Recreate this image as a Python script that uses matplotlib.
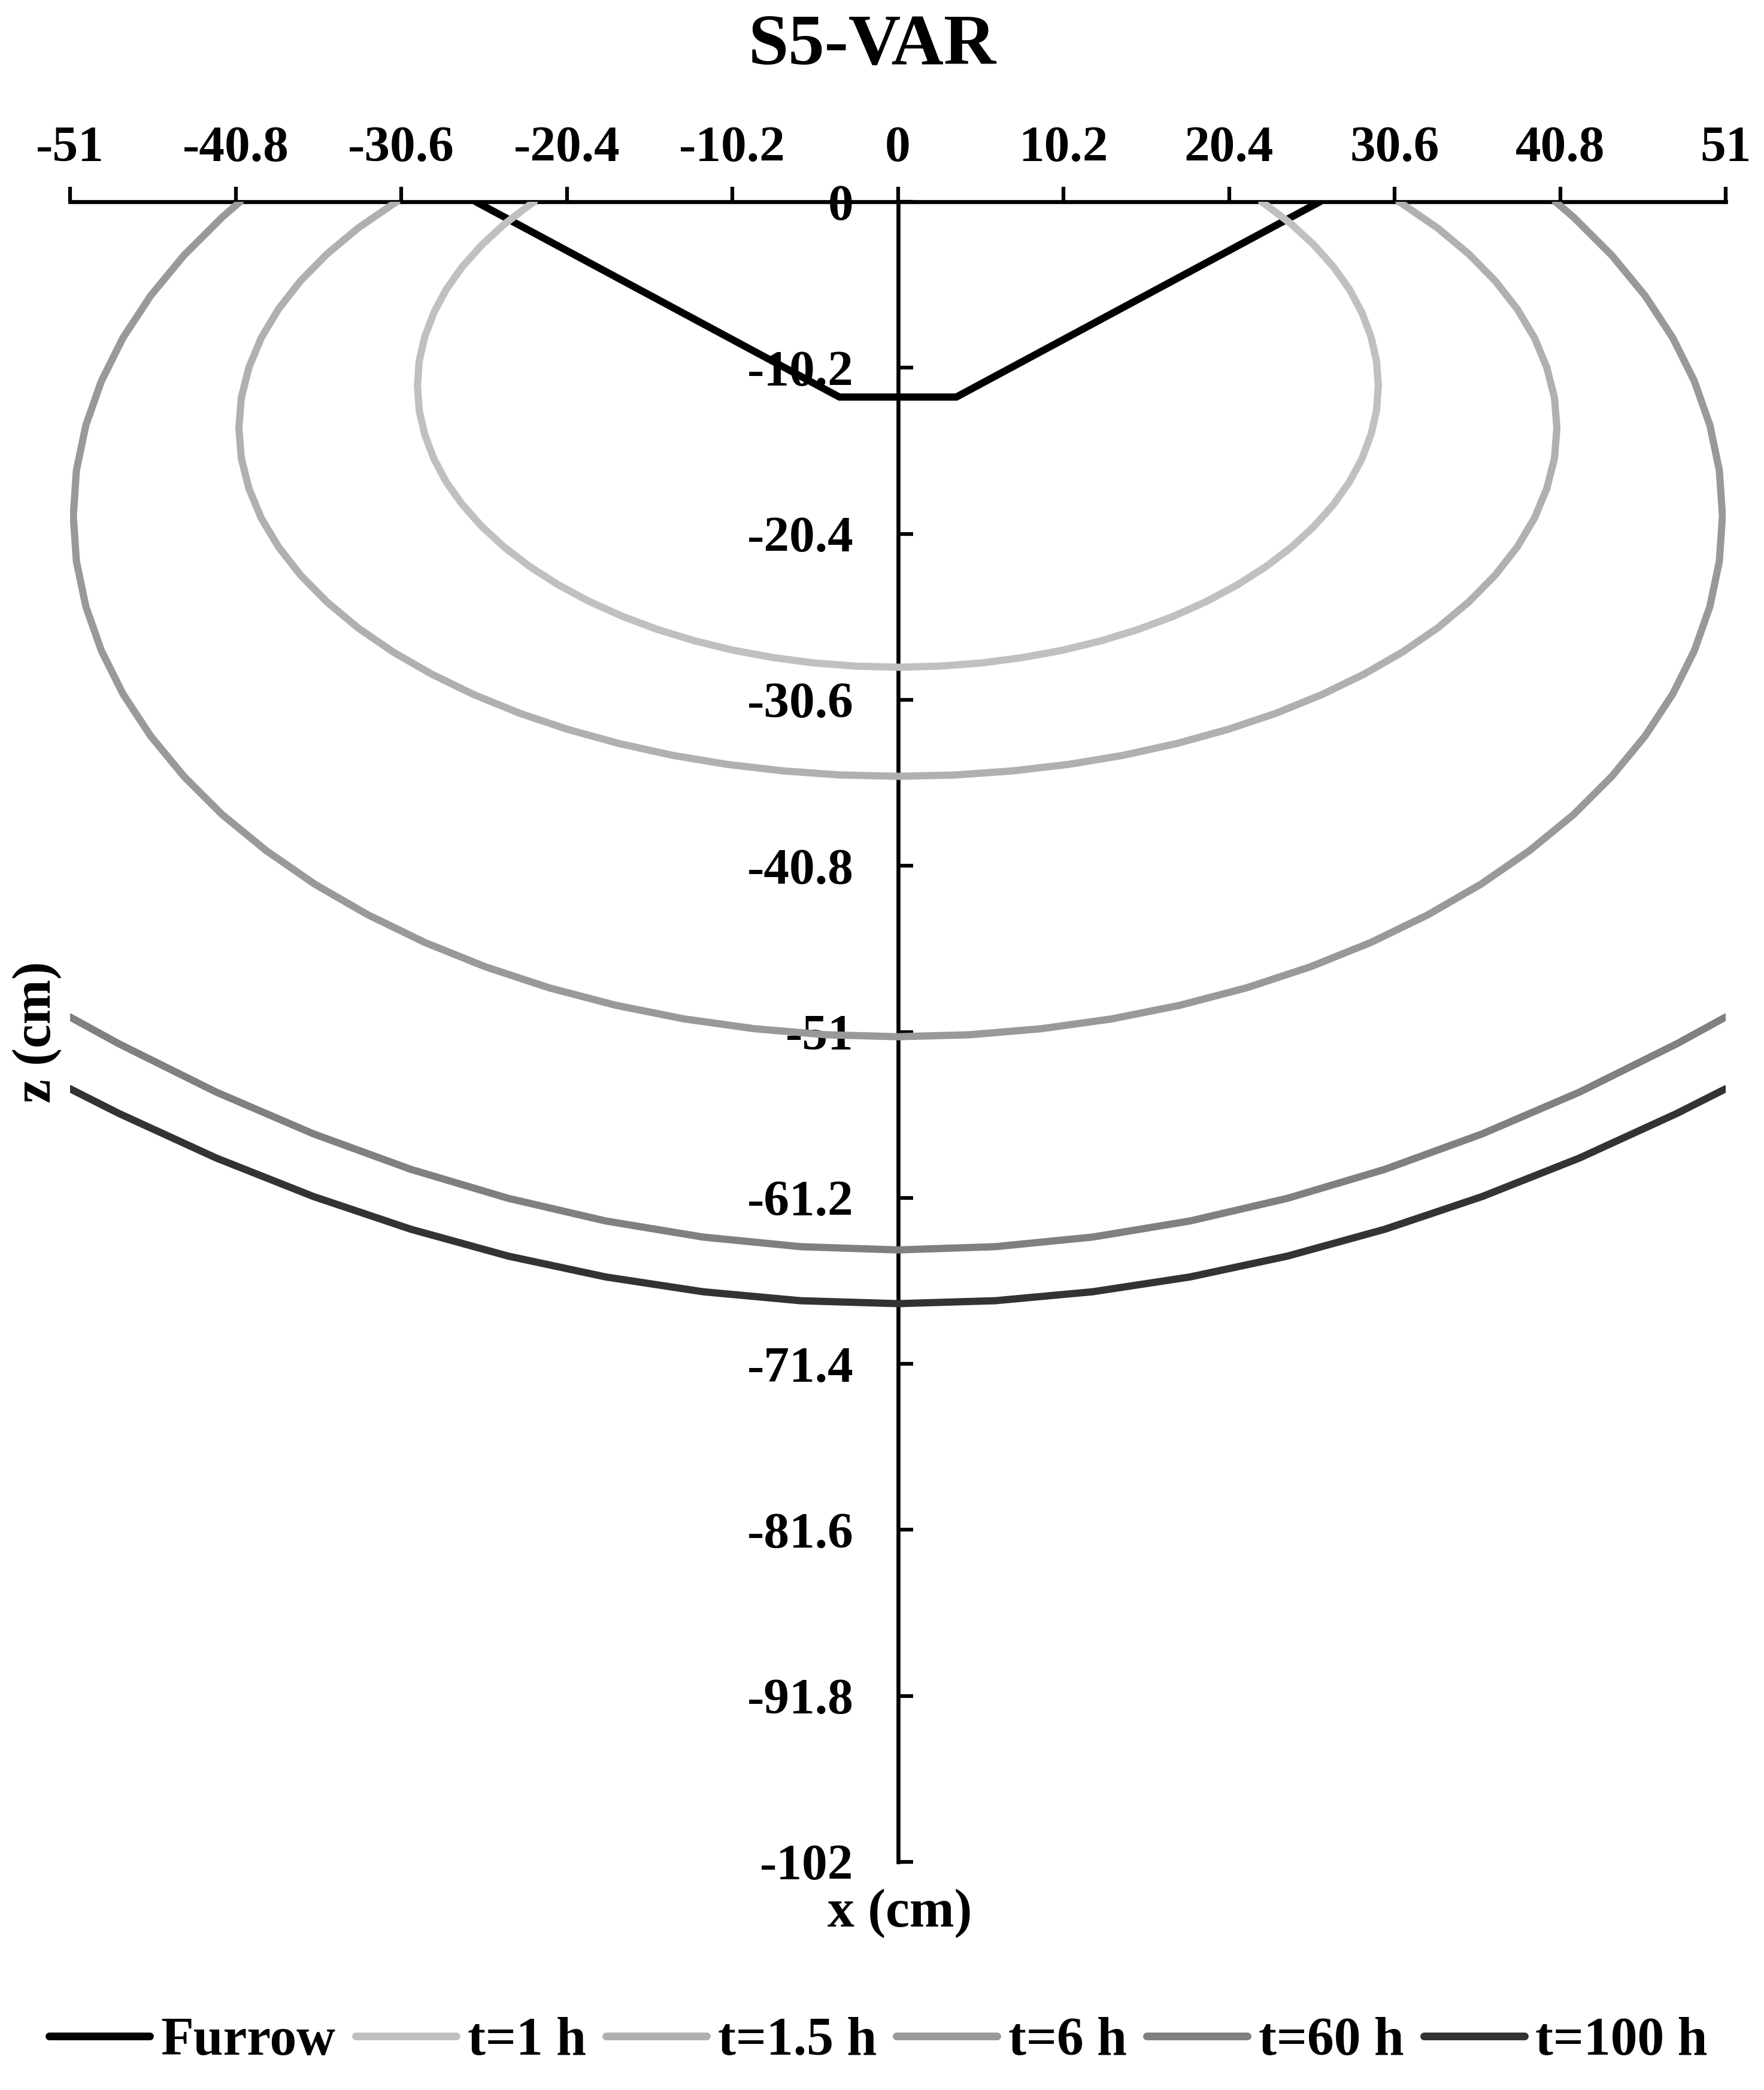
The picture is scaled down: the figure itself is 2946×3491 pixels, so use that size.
import matplotlib
matplotlib.use("Agg")
import matplotlib.pyplot as plt

plt.rcParams['font.family'] = ['Liberation Serif', 'DejaVu Serif']
plt.rcParams['font.weight'] = 'bold'
plt.rcParams['axes.unicode_minus'] = False

# ---------------- data ----------------
title = "S5-VAR"
x_ticks = [-51, -40.8, -30.6, -20.4, -10.2, 0, 10.2, 20.4, 30.6, 40.8, 51]
x_tick_labels = ["-51", "-40.8", "-30.6", "-20.4", "-10.2", "0", "10.2", "20.4", "30.6", "40.8", "51"]
z_ticks = [0, -10.2, -20.4, -30.6, -40.8, -51, -61.2, -71.4, -81.6, -91.8, -102]
z_tick_labels = ["0", "-10.2", "-20.4", "-30.6", "-40.8", "-51", "-61.2", "-71.4", "-81.6", "-91.8", "-102"]

series_names = ["Furrow", "t=1 h", "t=1.5 h", "t=6 h", "t=60 h", "t=100 h"]
series_colors = ["#000000", "#c0c0c0", "#b0b0b0", "#999999", "#808080", "#333333"]

furrow_x = [-26.0, -3.6, 3.6, 26.0]
furrow_z = [0.0, -12.0, -12.0, 0.0]

t1_x = [-22.41, -22.67, -24.25, -25.63, -26.83, -27.82, -28.59, -29.15, -29.49, -29.60,
        -29.49, -29.15, -28.59, -27.82, -26.83, -25.63, -24.25, -22.67, -20.93, -19.03,
        -16.98, -14.80, -12.51, -10.12, -7.66, -5.14, -2.58, 0.0,
        2.58, 5.14, 7.66, 10.12, 12.51, 14.80, 16.98, 19.03, 20.93, 22.67, 24.25, 25.63,
        26.83, 27.82, 28.59, 29.15, 29.49, 29.60, 29.49, 29.15, 28.59, 27.82, 26.83, 25.63,
        24.25, 22.67, 22.41]
t1_z = [0.0, -0.18, -1.38, -2.65, -3.99, -5.38, -6.82, -8.30, -9.79, -11.30,
        -12.81, -14.30, -15.78, -17.22, -18.61, -19.95, -21.22, -22.42, -23.53, -24.55,
        -25.47, -26.28, -26.98, -27.56, -28.01, -28.34, -28.53, -28.60,
        -28.53, -28.34, -28.01, -27.56, -26.98, -26.28, -25.47, -24.55, -23.53, -22.42, -21.22, -19.95,
        -18.61, -17.22, -15.78, -14.30, -12.81, -11.30, -9.79, -8.30, -6.82, -5.38, -3.99, -2.65,
        -1.38, -0.18, 0.0]

t15_x = [-30.87, -31.10, -33.26, -35.16, -36.80, -38.15, -39.22, -39.98, -40.45, -40.60,
         -40.45, -39.98, -39.22, -38.15, -36.80, -35.16, -33.26, -31.10, -28.71, -26.10,
         -23.29, -20.30, -17.16, -13.89, -10.51, -7.05, -3.54, 0.0,
         3.54, 7.05, 10.51, 13.89, 17.16, 20.30, 23.29, 26.10, 28.71, 31.10, 33.26, 35.16,
         36.80, 38.15, 39.22, 39.98, 40.45, 40.60, 40.45, 39.98, 39.22, 38.15, 36.80, 35.16,
         33.26, 31.10, 30.87]
t15_z = [0.0, -0.14, -1.62, -3.20, -4.86, -6.58, -8.36, -10.18, -12.03, -13.90,
         -15.77, -17.62, -19.44, -21.22, -22.94, -24.60, -26.18, -27.66, -29.03, -30.29,
         -31.43, -32.43, -33.29, -34.01, -34.57, -34.97, -35.22, -35.30,
         -35.22, -34.97, -34.57, -34.01, -33.29, -32.43, -31.43, -30.29, -29.03, -27.66, -26.18, -24.60,
         -22.94, -21.22, -19.44, -17.62, -15.77, -13.90, -12.03, -10.18, -8.36, -6.58, -4.86, -3.20,
         -1.62, -0.14, 0.0]

t6_x = [-40.52, -41.62, -43.99, -46.04, -47.74, -49.07, -50.03, -50.61, -50.80, -50.61,
        -50.03, -49.07, -47.74, -46.04, -43.99, -41.62, -38.91, -35.92, -32.65, -29.14,
        -25.40, -21.47, -17.37, -13.15, -8.82, -4.43, 0.0,
        4.43, 8.82, 13.15, 17.37, 21.47, 25.40, 29.14, 32.65, 35.92, 38.91, 41.62, 43.99,
        46.04, 47.74, 49.07, 50.03, 50.61, 50.80, 50.61, 50.03, 49.07, 47.74, 46.04, 43.99,
        41.62, 40.52]
t6_z = [0.0, -0.94, -3.30, -5.78, -8.36, -11.02, -13.74, -16.51, -19.30, -22.09,
        -24.86, -27.58, -30.24, -32.82, -35.30, -37.66, -39.87, -41.93, -43.81, -45.51,
        -47.01, -48.30, -49.37, -50.21, -50.81, -51.18, -51.30,
        -51.18, -50.81, -50.21, -49.37, -48.30, -47.01, -45.51, -43.81, -41.93, -39.87, -37.66, -35.30,
        -32.82, -30.24, -27.58, -24.86, -22.09, -19.30, -16.51, -13.74, -11.02, -8.36, -5.78, -3.30,
        -0.94, 0.0]

t60_x = [-51, -48, -42, -36, -30, -24, -18, -12, -6, 0, 6, 12, 18, 24, 30, 36, 42, 48, 51]
t60_z = [-50.09, -51.73, -54.70, -57.27, -59.45, -61.23, -62.62, -63.61, -64.20, -64.40,
         -64.20, -63.61, -62.62, -61.23, -59.45, -57.27, -54.70, -51.73, -50.09]

t100_x = [-51, -48, -42, -36, -30, -24, -18, -12, -6, 0, 6, 12, 18, 24, 30, 36, 42, 48, 51]
t100_z = [-54.50, -56.01, -58.75, -61.12, -63.13, -64.78, -66.06, -66.97, -67.52, -67.70,
          -67.52, -66.97, -66.06, -64.78, -63.13, -61.12, -58.75, -56.01, -54.50]

series_x = [furrow_x, t1_x, t15_x, t6_x, t60_x, t100_x]
series_z = [furrow_z, t1_z, t15_z, t6_z, t60_z, t100_z]

# ---------------- figure ----------------
W, H = 2946, 3491
fig = plt.figure(figsize=(W / 300, H / 300), dpi=300)
ax = fig.add_axes([117 / W, 1 - 3110 / H, (2882 - 117) / W, (3110 - 337) / H])

lw = 2.9
handles = []
for xs, zs, name, col in zip(series_x, series_z, series_names, series_colors):
    ln, = ax.plot(xs, zs, color=col, lw=lw, label=name, zorder=3,
                  solid_capstyle='round', solid_joinstyle='round')
    handles.append(ln)

ax.set_xlim(-51, 51)
ax.set_ylim(-102, 0)

# axes: x-axis on top (z=0), z-axis at x=0
ax.spines['bottom'].set_visible(False)
ax.spines['right'].set_visible(False)
ax.spines['left'].set_position(('data', 0))
for s in ('top', 'left'):
    ax.spines[s].set_linewidth(1.6)
    ax.spines[s].set_color('black')

ax.xaxis.tick_top()
ax.set_xticks(x_ticks)
ax.set_xticklabels(x_tick_labels)
ax.set_yticks(z_ticks)
ax.set_yticklabels(z_tick_labels)
ax.tick_params(axis='x', direction='out', length=6, width=1.5, pad=6,
               labelsize=20.5, top=True, bottom=False)
ax.tick_params(axis='y', direction='in', length=6, width=1.5, pad=17.8,
               labelsize=20.5, left=True, right=False)
for lab in ax.get_xticklabels() + ax.get_yticklabels():
    lab.set_fontweight('bold')

# title and axis labels
fig.text(1457 / W, 1 - 107 / H, title, ha='center', va='baseline',
         fontsize=29, fontweight='bold')
fig.text(1503 / W, 1 - 3218 / H, "x (cm)", ha='center', va='baseline',
         fontsize=21.5, fontweight='bold')
fig.text(62 / W, 1 - 1724 / H, "z (cm)", ha='center', va='center', rotation=90,
         fontsize=21.5, fontweight='bold')

# legend
leg = fig.legend(handles=handles, labels=series_names, loc='center',
                 bbox_to_anchor=(1467 / W, 1 - 3410 / H), ncol=6, frameon=False,
                 handlelength=1.875, handletextpad=0.21,
                 columnspacing=0.37, prop={'weight': 'bold', 'size': 21.5})
for h in leg.legend_handles:
    h.set_linewidth(3.1)
    h.set_solid_capstyle('round')

fig.savefig("out.png", dpi=300)
